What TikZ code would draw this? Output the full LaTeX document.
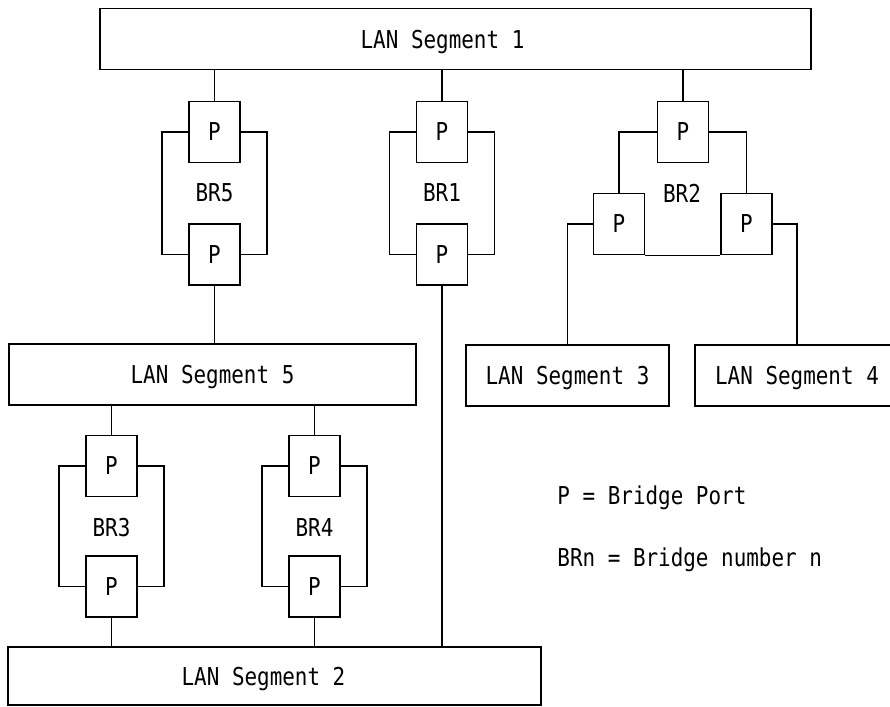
\documentclass[tikz,border=0pt]{standalone}
\usepackage{fontspec}
\newfontfamily\lanfont[FakeStretch=0.85]{DejaVu Sans Mono}
\tikzset{
  seg/.style={draw, minimum width=#1, minimum height=1.525cm, text depth=0pt},
  port/.style={draw, minimum width=1.275cm, minimum height=1.525cm, inner sep=0pt}
}
\begin{document}
\begin{tikzpicture}[x=0.025cm, y=-0.025cm, line width=1.1pt, font=\lanfont\fontsize{17.5}{21}\selectfont]
            \useasboundingbox (0,0) rectangle (890,706);

            \node[seg=17.775cm] (seg1) at (455.5,39) {LAN Segment 1\hspace*{0.65cm}};
            \node[seg=10.175cm] (seg5) at (212.5,374.5) {LAN Segment 5};
            \node[seg=5.075cm] (seg3) at (567.5,375.5) {LAN Segment 3};
            \node[seg=5.1cm] (seg4) at (797,375.5) {LAN Segment 4};
            \node[seg=13.325cm, minimum height=1.45cm] (seg2) at (274.5,676) {LAN Segment 2\hspace*{0.55cm}};

            \node[port] (p5a) at (214.5,132) {P};
            \node[port] (p5b) at (214.5,254.5) {P};
            \node (br5) at (214.5,193) {BR5};
            \draw (p5a.west) -- ++(-26,0) |- (p5b.west);
            \draw (p5a.east) -- ++(26,0) |- (p5b.east);
            \draw (p5a.north |- seg1.south) -- (p5a.north);
            \draw (p5b.south) -- (p5b.south |- seg5.north);

            \node[port] (p1a) at (442,132) {P};
            \node[port] (p1b) at (442,254.5) {P};
            \node (br1) at (442,193) {BR1};
            \draw (p1a.west) -- ++(-26,0) |- (p1b.west);
            \draw (p1a.east) -- ++(26,0) |- (p1b.east);
            \draw (p1a.north |- seg1.south) -- (p1a.north);
            \draw (p1b.south) -- (p1b.south |- seg2.north);

            \node[port] (p2a) at (683,132) {P};
            \node[port] (p2l) at (619,224) {P};
            \node[port] (p2r) at (746.5,224) {P};
            \node (br2) at (682,193) {BR2};
            \draw (p2a.north |- seg1.south) -- (p2a.north);
            \draw (p2a.west) -| (p2l.north);
            \draw (p2a.east) -| (p2r.north);
            \draw (p2l.south east) -- (p2r.south west);
            \draw (p2l.west) -| (seg3.north);
            \draw (p2r.east) -| (seg4.north);

            \node[port] (p3a) at (111.5,466) {P};
            \node[port] (p3b) at (111.5,586.5) {P};
            \node (br3) at (111.5,528) {BR3};
            \draw (p3a.west) -- ++(-26,0) |- (p3b.west);
            \draw (p3a.east) -- ++(26,0) |- (p3b.east);
            \draw (p3a.north |- seg5.south) -- (p3a.north);
            \draw (p3b.south) -- (p3b.south |- seg2.north);

            \node[port] (p4a) at (314.5,466) {P};
            \node[port] (p4b) at (314.5,586.5) {P};
            \node (br4) at (314.5,528) {BR4};
            \draw (p4a.west) -- ++(-26,0) |- (p4b.west);
            \draw (p4a.east) -- ++(26,0) |- (p4b.east);
            \draw (p4a.north |- seg5.south) -- (p4a.north);
            \draw (p4b.south) -- (p4b.south |- seg2.north);

            \node[anchor=west] (keyp) at (552,498) {P = Bridge Port};
            \node[anchor=west] (keybr) at (552,560) {BRn = Bridge number n};
        \end{tikzpicture}
\end{document}
